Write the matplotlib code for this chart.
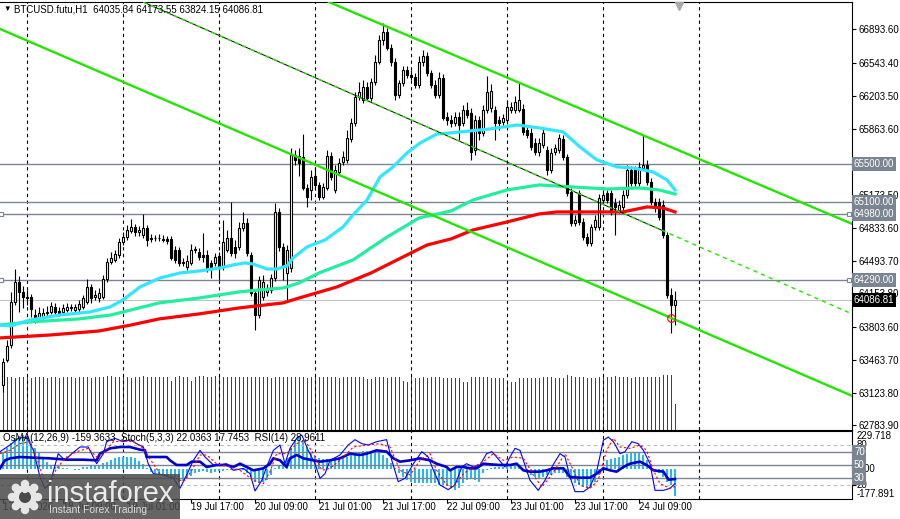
import matplotlib
matplotlib.use("Agg")
import matplotlib.pyplot as plt
import matplotlib.transforms as mtransforms
from matplotlib.patches import Rectangle, Circle
import numpy as np

# ---------------- data (H1 bars, index 0 = 17 Jul 18:00) ----------------
opens = [63204, 63463, 63619, 64065, 64273, 64169, 64117, 64117, 63930, 63909,
         63909, 63951, 63961, 64013, 63972, 63961, 63982, 64003, 63982, 63992,
         64013, 64065, 64221, 64117, 64107, 64117, 64304, 64480, 64501, 64553,
         64687, 64739, 64802, 64843, 64791, 64760, 64833, 64729, 64725, 64729,
         64719, 64719, 64719, 64604, 64604, 64480, 64428, 64470, 64604, 64584,
         64553, 64553, 64470, 64470, 64542, 64439, 64604, 64729, 64636, 64636,
         64833, 64885, 64553, 64158, 63930, 64117, 64169, 64190, 64314, 64999,
         64636, 64366, 64418, 65590, 65580, 65569, 65248, 65227, 65372, 65279,
         65154, 65248, 65580, 65227, 65414, 65517, 65538, 65756, 65922, 66192,
         66161, 66295, 66181, 66347, 66555, 66783, 66866, 66700, 66555, 66212,
         66337, 66472, 66420, 66399, 66316, 66555, 66617, 66441, 66316, 66212,
         66389, 65984, 65953, 65922, 65984, 65922, 66057, 66026, 65642, 65953,
         65818, 66057, 66078, 66057, 65953, 65932, 65953, 66057, 66057, 66057,
         66067, 65849, 65818, 65715, 65621, 65694, 65642, 65434, 65621, 65642,
         65756, 65569, 65206, 64885, 65196, 64895, 64739, 64677, 64843, 64843,
         65123, 65196, 65196, 65092, 65019, 65051, 65175, 65434, 65440, 65300,
         65455, 65486, 65310, 65102, 65102, 65071, 64760, 64138, 64035.34]
highs = [63484, 63671, 64169, 64407, 64335, 64231, 64190, 64148, 63992, 64013,
         64003, 64024, 64065, 64055, 64013, 64044, 64055, 64044, 64044, 64086,
         64138, 64304, 64252, 64190, 64210, 64345, 64522, 64584, 64604, 64729,
         64791, 64864, 64926, 64874, 64853, 64978, 64864, 64770, 64760, 64770,
         64760, 64750, 64750, 64646, 64636, 64522, 64553, 64667, 64646, 64625,
         64781, 64604, 64501, 64573, 64584, 64916, 64812, 65102, 64708, 64895,
         64999, 64936, 64584, 64190, 64335, 64345, 64252, 64356, 65092, 65040,
         64677, 64656, 65663, 65642, 65663, 65808, 65289, 65434, 65455, 65310,
         65300, 65642, 65621, 65486, 65559, 65632, 65849, 65974, 66244, 66347,
         66368, 66347, 66389, 66627, 66835, 66959, 66908, 66742, 66596, 66368,
         66513, 66513, 66472, 66441, 66617, 66679, 66659, 66472, 66368, 66451,
         66430, 66036, 66005, 66036, 66036, 66109, 66140, 66078, 66005, 65995,
         66109, 66410, 66327, 66098, 65995, 66015, 66161, 66140, 66202, 66337,
         66119, 65891, 65870, 65766, 65766, 65870, 65683, 65663, 65704, 65808,
         65798, 65600, 65248, 64968, 65227, 64936, 64781, 64874, 64968, 65185,
         65227, 65227, 65227, 65144, 65123, 65227, 65486, 65476, 65476, 65517,
         65798, 65538, 65351, 65144, 65144, 65123, 64791, 64210, 64173.55]
lows = [63131, 63443, 63588, 64034, 63961, 64003, 64034, 63909, 63847, 63878,
        63889, 63920, 63941, 63930, 63920, 63930, 63961, 63972, 63951, 63961,
        63992, 64044, 64055, 64086, 64065, 64096, 64273, 64459, 64480, 64522,
        64656, 64708, 64781, 64750, 64750, 64729, 64646, 64687, 64698, 64698,
        64687, 64667, 64501, 64470, 64439, 64439, 64397, 64449, 64573, 64501,
        64480, 64376, 64314, 64439, 64293, 64397, 64584, 64542, 64522, 64604,
        64802, 64542, 64127, 63775, 63899, 64086, 64127, 64158, 64283, 64594,
        64293, 64086, 64376, 65486, 65372, 65227, 65051, 65123, 65227, 65123,
        65134, 65227, 65331, 65196, 65383, 65486, 65507, 65725, 65891, 66161,
        66129, 66161, 66150, 66316, 66534, 66731, 66679, 66513, 66161, 66181,
        66306, 66389, 66368, 66285, 66285, 66513, 66410, 66285, 66181, 66181,
        65953, 65901, 65881, 65891, 65746, 65891, 65974, 65538, 65590, 65746,
        65787, 66026, 66036, 65746, 65849, 65891, 65912, 66026, 66026, 66036,
        65798, 65766, 65642, 65590, 65580, 65663, 65383, 65403, 65590, 65611,
        65538, 65165, 64853, 64853, 64864, 64708, 64646, 64646, 64812, 64812,
        65092, 65092, 64968, 64760, 64988, 65019, 65144, 65268, 65268, 65268,
        65434, 65279, 65071, 64999, 64916, 64729, 64107, 63743, 63824.15]
closes = [63443, 63609, 64065, 64273, 64169, 64117, 64107, 63992, 63878, 63951,
          63951, 63961, 64024, 63961, 63951, 64003, 64013, 64013, 64013, 64044,
          64107, 64221, 64107, 64138, 64158, 64304, 64480, 64522, 64563, 64687,
          64739, 64812, 64843, 64791, 64812, 64833, 64708, 64720, 64730, 64725,
          64712, 64698, 64522, 64501, 64470, 64470, 64490, 64604, 64610, 64532,
          64532, 64418, 64428, 64532, 64428, 64687, 64729, 64573, 64573, 64833,
          64885, 64573, 64158, 63930, 64293, 64273, 64210, 64314, 64999, 64636,
          64428, 64604, 65590, 65538, 65507, 65248, 65154, 65362, 65279, 65154,
          65258, 65580, 65362, 65434, 65507, 65569, 65766, 65922, 66192, 66244,
          66295, 66181, 66347, 66555, 66783, 66866, 66700, 66555, 66212, 66337,
          66472, 66420, 66399, 66316, 66555, 66617, 66441, 66316, 66212, 66389,
          65974, 65953, 65922, 65984, 65901, 66057, 66005, 65621, 65953, 65818,
          66057, 66244, 66254, 65922, 65922, 65974, 66088, 66088, 66140, 66161,
          65829, 65798, 65673, 65621, 65715, 65818, 65434, 65611, 65663, 65766,
          65569, 65196, 64885, 64916, 64895, 64739, 64677, 64843, 64916, 65144,
          65175, 65123, 64999, 65051, 65071, 65175, 65434, 65300, 65300, 65466,
          65486, 65310, 65102, 65040, 64947, 64760, 64138, 64034, 64086.81]
tick_volume = [2650, 2650, 2650, 2600, 2650, 2650, 2650, 2600, 2650, 2650,
               2650, 2600, 2650, 2650, 2600, 2650, 2650, 2650, 2600, 2650,
               2650, 2650, 2600, 2650, 2650, 2650, 2700, 2700, 2650, 2650,
               2650, 2650, 2600, 2650, 2650, 2700, 2650, 2650, 2650, 2650,
               2650, 2650, 2450, 2650, 2700, 2650, 2650, 2450, 2650, 2700,
               2700, 2650, 2650, 2700, 2650, 2650, 2650, 2650, 2650, 2650,
               2650, 2650, 2650, 2650, 2650, 2650, 2650, 2600, 2650, 2650,
               2650, 2650, 2650, 2650, 2650, 2650, 2600, 2650, 2650, 2650,
               2650, 2650, 2650, 2650, 2600, 2650, 2650, 2650, 2650, 2650,
               2650, 2550, 2550, 2650, 2650, 2650, 2600, 2650, 2650, 2650,
               2450, 2400, 2650, 2600, 2600, 2650, 2600, 2650, 2650, 2650,
               2600, 2600, 2600, 2600, 2600, 2400, 2400, 2650, 2650, 2650,
               2650, 2650, 2600, 2600, 2600, 2600, 2350, 2400, 2400, 2600,
               2600, 2600, 2600, 2600, 2600, 2650, 2650, 2650, 2600, 2600,
               2600, 2750, 2700, 2650, 2650, 2650, 2600, 2600, 2600, 2650,
               2650, 2650, 2650, 2700, 2650, 2650, 2650, 2600, 2650, 2650,
               2650, 2650, 2650, 2650, 2650, 2750, 2750, 2750, 1300]

# moving averages (bar index, price)
ma_fast_x = [-0.75, 1.75, 6.75, 14.25, 21.75, 26.75, 30, 34.25, 39.25, 44.25, 49.25,
             54.25, 57.5, 60.5, 62.5, 66, 68.5, 71, 72.5, 76, 78.5, 80.5, 85, 87.5,
             91, 94.25, 97.5, 101, 104.25, 108.5, 111.75, 114.25, 121.75, 128.5,
             134.25, 140, 144.25, 148.5, 153.5, 157.5, 162.5, 166, 168]
ma_fast = [63826, 63816, 63878, 63930, 63961, 64013, 64086, 64221, 64314, 64366, 64387,
           64418, 64449, 64470, 64459, 64407, 64407, 64439, 64521, 64636, 64677, 64708,
           64843, 64968, 65123, 65362, 65466, 65611, 65714, 65808, 65818, 65829, 65860,
           65901, 65870, 65829, 65673, 65538, 65466, 65455, 65414, 65331, 65227]
ma_mid_x = [-0.75, 6.75, 19, 27, 32, 39, 49, 59, 64, 70, 74, 79, 87.5, 96, 104, 112,
            117.5, 126, 134, 142.5, 151, 159, 164, 168]
ma_mid = [63826, 63858, 63889, 63930, 63982, 64055, 64106, 64169, 64190, 64210, 64262,
          64366, 64501, 64739, 64936, 65009, 65123, 65227, 65279, 65258, 65237, 65248,
          65227, 65185]
ma_slow_x = [-0.75, 12, 24, 32, 39, 49, 59, 70, 74, 83.5, 92, 100, 106, 112, 117.5, 126,
             134, 138.5, 147, 155, 161, 165, 168]
ma_slow = [63692, 63723, 63764, 63826, 63889, 63941, 64003, 64055, 64106, 64221, 64366,
           64532, 64656, 64719, 64812, 64895, 64978, 64999, 64999, 64999, 65051, 65040,
           64999]

# channel lines (two anchor points each)
channel_upper = [(151, 65953), (211.75, 64884)]
channel_lower = [(-0.75, 66897), (211.75, 63100)]
channel_mid = [(111.75, 65776), (211.75, 63950)]
channel_mid_solid_end = 165

levels = [65500.00, 65100.00, 64980.00, 64290.00]
levels_marked = [64980.00, 64290.00]
last_price = 64086.81
touch_point = (166.9, 63896)

price_ticks = [66893.60, 66543.40, 66203.50, 65863.60, 65173.50, 64833.60,
               64493.70, 64153.80, 63803.60, 63463.70, 63123.80, 62783.90]

# oscillators
osma = [98, 128, 158, 188, 200, 206, 194, 164, 128, 98,
        68, 44, 26, 14, 12, 8, 5, 3, -4, -5,
        12, 16, 20, 20, 26, 38, 44, 56, 68, 74,
        76, 76, 74, 68, 50, 32, 8, -16, -22, -28,
        -34, -40, -46, -58, -76, -70, -58, -40, -22, -16,
        -10, -16, -22, -16, -10, -10, -5, -5, -2, -5,
        -5, -22, -46, -76, -82, -76, -64, -34, 8, 26,
        38, 68, 128, 176, 194, 176, 134, 98, 74, 68,
        62, 62, 62, 56, 62, 68, 74, 86, 98, 104,
        110, 110, 104, 98, 98, 86, 68, 38, 8, -22,
        -46, -64, -76, -82, -82, -84, -84, -82, -84, -94,
        -106, -100, -112, -124, -112, -82, -64, -52, -64, -76,
        -22, -4, 8, 14, 16, 16, 26, 30, 26, 14,
        -4, -22, -34, -46, -50, -46, -34, -34, -22, -22,
        -22, -46, -64, -82, -94, -106, -112, -106, -76, -34,
        14, 56, 62, 68, 74, 86, 92, 98, 98, 100,
        86, 56, 26, -4, -22, -46, -76, -94, -159.36]
osma_range = (-177.891, 229.718)

stoch_k_x = [-0.75, 1.75, 3.8, 5.9, 7.6, 9.25, 10.5, 11.75, 13.8, 15.5, 17.2, 19.25, 21.3,
             23.4, 25.1, 25.9, 28, 30, 31.75, 33.4, 35.1, 36.3, 37.6, 40.1, 42.6, 44.25,
             45.9, 47.6, 49.25, 50.5, 52.6, 54.25, 55.9, 57.6, 60.1, 61.75, 63, 64.7, 65.9,
             67.6, 69.25, 70.5, 71.75, 73.4, 74.7, 76.3, 78, 79.25, 80.5, 81.75, 84.25,
             86.3, 88, 89.7, 91.3, 93.4, 95.9, 97.2, 98.8, 100.5, 102.6, 104.7, 106.3,
             107.6, 109.25, 111.3, 113, 114.7, 115.9, 117.6, 119.25, 120.9, 122.2, 123.4,
             125.5, 126.75, 128, 129.25, 131.75, 133.8, 135.5, 136.75, 138, 139.25, 140.5,
             141.75, 143, 145.1, 146.75, 148.4, 150.1, 151.3, 152.6, 154.25, 155.5, 157.2,
             158.8, 160.1, 161.75, 163, 165.1, 166.75, 168]
stoch_k = [70, 80, 90, 92, 72, 32, 15, 22, 67, 57, 67, 77, 77, 52, 67, 85, 90, 85, 88, 82,
           77, 52, 37, 35, 30, 15, 35, 57, 72, 62, 50, 50, 52, 42, 45, 37, 11, 27, 47, 72,
           80, 52, 75, 90, 95, 72, 52, 30, 37, 57, 65, 80, 88, 82, 80, 85, 88, 57, 25, 30,
           52, 70, 62, 42, 20, 13, 20, 47, 52, 47, 50, 67, 70, 62, 47, 62, 75, 72, 27, 12,
           27, 42, 55, 67, 62, 32, 10, 10, 17, 40, 87, 92, 85, 67, 70, 85, 82, 72, 52, 12,
           12, 15, 22.04]
stoch_d_x = [-0.75, 1.75, 4.25, 6.75, 8.4, 10.1, 11.75, 13.4, 15.9, 18.4, 21.3, 23.4, 25.5,
             27.6, 30, 32.6, 35.1, 37.2, 39.25, 42.6, 45.1, 47.2, 49.25, 50.9, 53.4, 56.75,
             59.25, 62.6, 65.1, 66.75, 68.4, 70.9, 73.4, 75.5, 77.6, 79.7, 81.75, 84.25,
             87.6, 90.9, 94.25, 96.75, 99.25, 101.75, 104.25, 106.75, 108.4, 110.9, 112.6,
             115.1, 117.6, 120.1, 122.6, 125.1, 127.6, 130.1, 132.6, 134.7, 136.75, 138.4,
             140.5, 142.2, 144.25, 146.75, 148.8, 150.9, 152.6, 154.25, 156.75, 159.25,
             160.9, 162.6, 164.25, 166.75, 168]
stoch_d = [67, 72, 82, 85, 62, 30, 22, 45, 62, 70, 75, 62, 70, 85, 86, 85, 75, 55, 37, 32,
           25, 42, 65, 65, 52, 47, 42, 27, 22, 40, 67, 67, 82, 87, 67, 42, 45, 57, 77, 80,
           82, 77, 42, 35, 57, 67, 42, 20, 17, 37, 47, 55, 67, 57, 62, 60, 35, 17, 32, 47,
           67, 47, 20, 15, 27, 72, 90, 77, 75, 80, 72, 42, 22, 15, 17.75]
rsi_x = [-0.75, 0.5, 1.75, 4.25, 7.6, 11.75, 15.9, 20.1, 23.4, 24.25, 26.75, 29.25, 31.75,
         34.25, 35.5, 35.9, 40.9, 41.75, 43.4, 45.9, 47.2, 49.25, 50.9, 53.4, 55.9, 57.6,
         59.25, 60.9, 62.6, 65.1, 66.75, 67.6, 69.25, 70.9, 71.75, 73.4, 75.1, 77.6, 79.25,
         81.75, 84.25, 86.75, 89.25, 90.9, 93.4, 95.9, 97.6, 99.25, 101.75, 104.25, 106.75,
         108.4, 110.9, 111.75, 113.4, 115.1, 116.75, 118.4, 120.1, 121.75, 124.25, 126.75,
         128.4, 130.1, 131.75, 134.25, 135.9, 137.6, 140.1, 141.75, 144.25, 146.75, 148.4,
         150.1, 151.75, 153.4, 155.1, 156.75, 159.25, 160.9, 162.6, 165.1, 166.4, 168]
rsi = [45, 57, 60, 62, 61, 60, 58, 58, 57, 67, 75, 77, 77, 73, 72, 62, 62, 57, 50, 50, 55,
       55, 47, 50, 50, 47, 52, 47, 42, 45, 52, 60, 57, 47, 60, 65, 60, 57, 55, 57, 60, 67,
       65, 67, 72, 70, 60, 55, 57, 60, 57, 52, 47, 42, 47, 47, 45, 45, 52, 51, 50, 50, 52,
       42, 40, 40, 42, 45, 45, 32, 31, 31, 37, 45, 42, 40, 47, 52, 55, 50, 42, 40, 28, 28.96]
osc_levels_solid = [70, 50, 30]
osc_levels_dashed = [80, 20]

time_label_bars = [0, 15, 31, 47, 63, 79, 95, 111, 127, 143, 159]
time_labels = ["17 Jul 2026", "18 Jul 09:00", "19 Jul 01:00", "19 Jul 17:00",
               "20 Jul 09:00", "21 Jul 01:00", "21 Jul 17:00", "22 Jul 09:00",
               "23 Jul 01:00", "23 Jul 17:00", "24 Jul 09:00"]
day_separators = [6, 30, 54, 78, 102, 126, 150, 174]

title = "BTCUSD.futu,H1  64035.34 64173.55 63824.15 64086.81"
ind_title = "OsMA(12,26,9) -159.3633  Stoch(5,3,3) 22.0363 17.7453  RSI(14) 28.9611"

# ---------------- figure ----------------
plt.rcParams['font.family'] = ['Liberation Sans', 'DejaVu Sans']
plt.rcParams['font.size'] = 7

W, H = 900, 519
fig = plt.figure(figsize=(W / 100, H / 100), dpi=100)


def rect(left, top, width, height):
    return [left / W, 1 - (top + height) / H, width / W, height / H]


XLIM = (-0.75, 212.25)
GRID_C = '#7b8591'
LIME = '#22e600'

ax_vol = fig.add_axes(rect(0, 2, 852, 428))
ax = fig.add_axes(rect(0, 2, 852, 428))
ax_ind = fig.add_axes(rect(0, 431, 852, 68))
ax_osc = ax_ind.twinx()

# volume underneath
x = np.arange(len(closes))
ax_vol.vlines(x, 0, tick_volume, color='#0a6a0a', lw=0.72, antialiased=False)
ax_vol.set_xlim(*XLIM)
ax_vol.set_ylim(0, 428 * 50)
ax_vol.set_axis_off()

# main panel
ax.set_facecolor('none')
ax.set_xlim(*XLIM)
ax.set_ylim(62736.7, 67176.8)
for s in ['top', 'right', 'bottom']:
    ax.spines[s].set_linewidth(0.8)
ax.spines['left'].set_visible(False)
ax.tick_params(axis='x', bottom=False, labelbottom=False)
ax.yaxis.tick_right()
ax.set_yticks(price_ticks, labels=[f"{t:.2f}" for t in price_ticks])
ax.tick_params(axis='y', direction='out', length=3, width=0.8, pad=1.5, labelsize=7)

for d in day_separators:
    ax.axvline(d, color='black', lw=0.8, ls=(0, (3, 3)), zorder=0.5)
for lv in levels:
    ax.axhline(lv, color=GRID_C, lw=1.0, zorder=1)
ax.axhline(last_price, color='#c4c4c4', lw=0.8, zorder=1)
ax.plot([-0.4] * len(levels_marked), levels_marked, ls='none', marker='s', ms=3.2,
        mfc='white', mec=GRID_C, mew=0.8, zorder=2, clip_on=False)
ax.plot([211.4] * len(levels_marked), levels_marked, ls='none', marker='s', ms=3.2,
        mfc='white', mec=GRID_C, mew=0.8, zorder=2, clip_on=False)

# candles
o = np.array(opens); c = np.array(closes); h = np.array(highs); l = np.array(lows)
up = c >= o
ax.vlines(x, l, h, color='black', lw=0.8, zorder=3)
lo = np.minimum(o, c)
hgt = np.maximum(np.abs(c - o), 6)
ax.bar(x[up], hgt[up], bottom=lo[up], width=0.7, color='white', edgecolor='black',
       lw=0.8, zorder=3.2)
ax.bar(x[~up], hgt[~up], bottom=lo[~up], width=0.7, color='black', edgecolor='black',
       lw=0.8, zorder=3.2)

# moving averages
ax.plot(ma_slow_x, ma_slow, color='#ff0000', lw=2.3, zorder=4)
ax.plot(ma_mid_x, ma_mid, color='#22eea0', lw=2.3, zorder=4.1)
ax.plot(ma_fast_x, ma_fast, color='#33e6ff', lw=2.3, zorder=4.2)

# channel
ax.axline(*channel_upper, color=LIME, lw=1.7, zorder=5)
ax.axline(*channel_lower, color=LIME, lw=1.7, zorder=5)
(mx1, my1), (mx2, my2) = channel_mid
slope = (my2 - my1) / (mx2 - mx1)
seg_x = np.array([20, channel_mid_solid_end])
ax.plot(seg_x, my1 + slope * (seg_x - mx1), color='black', lw=0.7, zorder=5)
ax.axline(*channel_mid, color=LIME, lw=1.0, ls=(0, (3, 3)), zorder=5.1)

ax.plot(*touch_point, marker='o', ms=5.5, mfc='none', mec='red', mew=0.8, zorder=6)

# shift marker at top
top_tr = mtransforms.blended_transform_factory(ax.transData, ax.transAxes)
ax.plot([169], [1 - 4 / 428], marker='v', ms=6, color='#a9a9a9', transform=top_tr,
        clip_on=False, zorder=6)

# price boxes on the right axis
right_tr = mtransforms.blended_transform_factory(ax.transAxes, ax.transData)
for lv in levels:
    ax.text(1 + 2 / 852, lv, f"{lv:.2f}", transform=right_tr, ha='left', va='center',
            fontsize=7, color='white', clip_on=False, zorder=7,
            bbox=dict(boxstyle='square,pad=0.2', fc=GRID_C, ec='none'))
ax.text(1 + 2 / 852, last_price, f"{last_price:.2f}", transform=right_tr, ha='left',
        va='center', fontsize=7, color='white', clip_on=False, zorder=7,
        bbox=dict(boxstyle='square,pad=0.2', fc='black', ec='none'))

# indicator panel
ax_ind.set_xlim(*XLIM)
ax_ind.set_ylim(*osma_range)
ax_osc.set_ylim(-1, 101)
ax_ind.bar(x, osma, width=0.72, color='#22b8f0', zorder=2)
for d in day_separators:
    ax_ind.axvline(d, color='black', lw=0.8, ls=(0, (3, 3)), zorder=1)
for lv in osc_levels_solid:
    ax_osc.axhline(lv, color=GRID_C, lw=1.0, zorder=1)
for lv in osc_levels_dashed:
    ax_osc.axhline(lv, color='#b9b9b9', lw=0.8, ls=(0, (3, 3)), zorder=1)
ax_osc.plot(rsi_x, rsi, color='#0000cd', lw=1.9, zorder=3)
ax_osc.plot(stoch_k_x, stoch_k, color='#0000ff', lw=0.8, zorder=4)
ax_osc.plot(stoch_d_x, stoch_d, color='red', lw=0.8, ls=(0, (2, 2)), zorder=4)

for s in ['left', 'right']:
    ax_ind.spines[s].set_visible(False)
ax_ind.spines['top'].set_linewidth(0.8)
ax_ind.spines['bottom'].set_linewidth(0.8)
for s in ['left', 'top', 'bottom']:
    ax_osc.spines[s].set_visible(False)
ax_osc.spines['right'].set_linewidth(0.8)
ax_ind.tick_params(axis='y', left=False, labelleft=False)
ax_ind.set_xticks(time_label_bars, labels=[])
ax_ind.tick_params(axis='x', direction='out', length=3, width=0.8)
ax_osc.set_yticks(osc_levels_dashed + osc_levels_solid, labels=[])
ax_osc.tick_params(axis='y', direction='out', length=3, width=0.8)

ind_tr = mtransforms.blended_transform_factory(ax_ind.transAxes, ax_ind.transData)
osc_tr = mtransforms.blended_transform_factory(ax_osc.transAxes, ax_osc.transData)
ax_ind.text(1 + 5 / 852, osma_range[1], f"{osma_range[1]:.3f}", transform=ind_tr,
            ha='left', va='top', fontsize=7, clip_on=False)
ax_ind.text(1 + 5 / 852, osma_range[0], f"{osma_range[0]:.3f}", transform=ind_tr,
            ha='left', va='bottom', fontsize=7, clip_on=False)
ax_ind.text(1 + 5 / 852, 0, "0.00", transform=ind_tr, ha='left', va='center',
            fontsize=7, clip_on=False)
for lv in osc_levels_dashed:
    ax_osc.text(1 + 5 / 852, lv, f"{lv}", transform=osc_tr, ha='left', va='center',
                fontsize=7, clip_on=False)
for lv in osc_levels_solid:
    ax_osc.text(1 + 2 / 852, lv, f"{lv}", transform=osc_tr, ha='left', va='center',
                fontsize=7, color='white', clip_on=False, zorder=7,
                bbox=dict(boxstyle='square,pad=0.18', fc=GRID_C, ec='none'))

# time labels
time_tr = mtransforms.blended_transform_factory(ax_ind.transData, ax_ind.transAxes)
for b, lab in zip(time_label_bars, time_labels):
    ax_ind.text(b, -8 / 68, lab, transform=time_tr, ha='left', va='center', fontsize=7,
                clip_on=False)

# texts
fig.text(3 / W, 1 - 9 / H, "\u25bc", fontsize=5.5, va='center', ha='left')
fig.text(14 / W, 1 - 9 / H, title, fontsize=7, va='center', ha='left')
fig.text(3 / W, 1 - 438 / H, ind_title, fontsize=7, va='center', ha='left')

# watermark
ax_wm = fig.add_axes(rect(0, 474, 180, 45))
ax_wm.set_xlim(0, 180)
ax_wm.set_ylim(45, 0)
ax_wm.set_axis_off()
ax_wm.add_patch(Rectangle((0, 0), 180, 45, fc='#4a4a4a', ec='none', alpha=0.85))
for ang in np.linspace(0, 2 * np.pi, 9)[:-1]:
    ax_wm.add_patch(Circle((25 + 13 * np.cos(ang), 23 + 13 * np.sin(ang)), 4.2,
                           fc='#e6e6e6', ec='none'))
ax_wm.add_patch(Circle((25, 23), 12, fc='#e6e6e6', ec='none'))
ax_wm.add_patch(Circle((25, 23), 6, fc='#4a4a4a', ec='none'))
ax_wm.add_patch(Circle((25, 16), 3.2, fc='#e6e6e6', ec='none'))
ax_wm.text(47, 28, "instaforex", fontsize=21, color='#ececec', va='baseline', ha='left')
ax_wm.text(49, 36, "Instant Forex Trading", fontsize=7.5, color='#dcdcdc', va='center',
           ha='left')

fig.savefig("out.png", dpi=100)
